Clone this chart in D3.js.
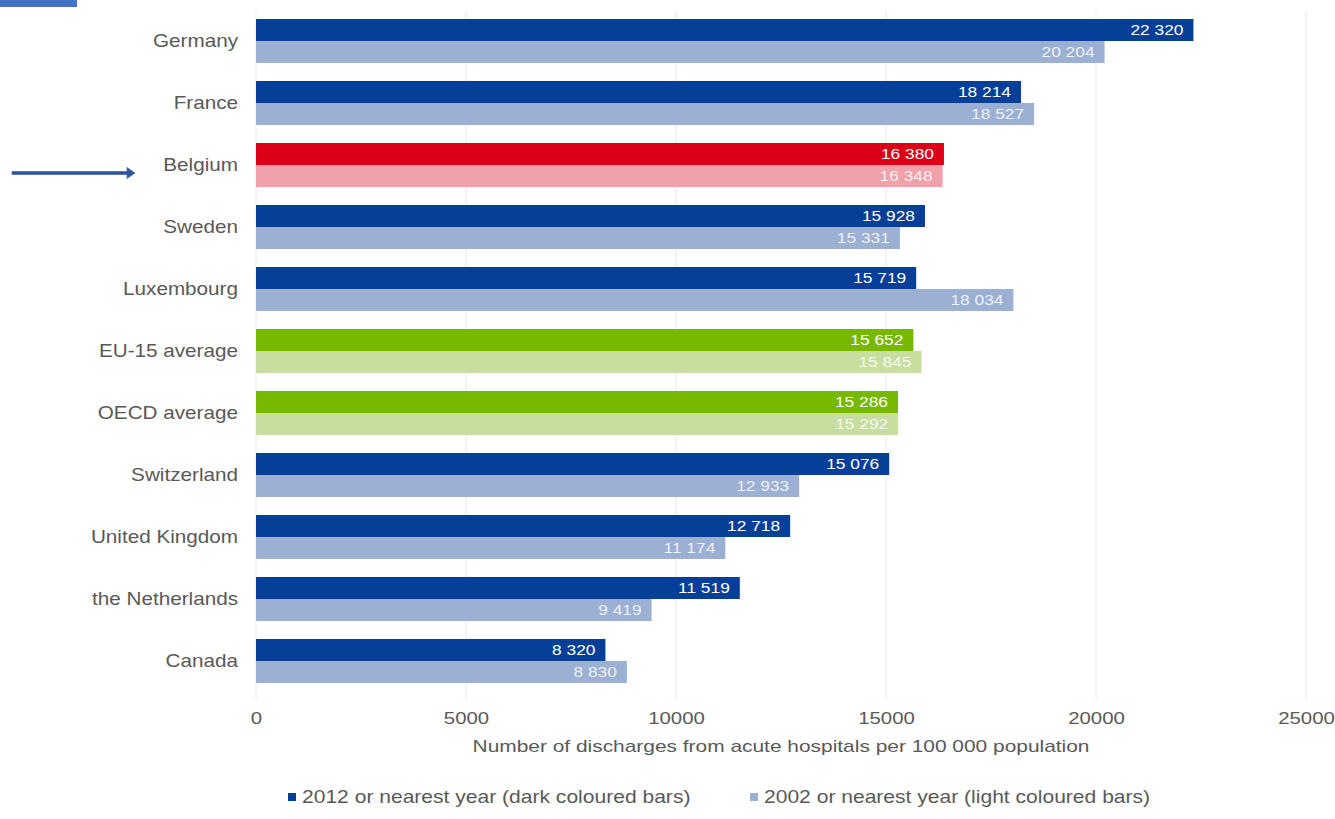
<!DOCTYPE html>
<html>
<head>
<meta charset="utf-8">
<script src="https://cdn.jsdelivr.net/npm/d3@7"></script>
<style>
  body { margin: 0; background: #fff; }
  svg { display: block; font-family: "Liberation Sans", Arial, sans-serif; }
</style>
</head>
<body>
<svg id="chart" width="1335" height="819"></svg>
<script>
// --- Data ---
const countries = ["Germany", "France", "Belgium", "Sweden", "Luxembourg", "EU-15 average",
  "OECD average", "Switzerland", "United Kingdom", "the Netherlands", "Canada"];
const values2012 = [22320, 18214, 16380, 15928, 15719, 15652, 15286, 15076, 12718, 11519, 8320];
const values2002 = [20204, 18527, 16348, 15331, 18034, 15845, 15292, 12933, 11174, 9419, 8830];
const groups = ["other", "other", "belgium", "other", "other", "avg", "avg", "other", "other", "other", "other"];
const xTicks = [0, 5000, 10000, 15000, 20000, 25000];
const legendLabels = ["2012 or nearest year (dark coloured bars)", "2002 or nearest year (light coloured bars)"];

const darkColor = { other: "#063f98", belgium: "#dc0017", avg: "#77b800" };
const lightColor = { other: "#9cb0d3", belgium: "#f0a1aa", avg: "#c8dea1" };
const textGrey = "#595959";

const svg = d3.select("#chart");

const x = d3.scaleLinear().domain([0, 25000]).range([256, 1306]);
const y = d3.scaleBand().domain(countries).range([10, 692]).paddingInner(0.29).paddingOuter(0.145);

// texte étiré horizontalement (la référence est un peu élargie)
function stretchedText(sel, sx) {
  return sel.append("g")
    .attr("transform", d => `translate(${sx.x(d)},${sx.y(d)}) scale(${sx.s},1)`)
    .append("text")
    .attr("dy", "0.36em");
}

// gridlines
svg.append("g").selectAll("line")
  .data(xTicks)
  .join("line")
  .attr("x1", d => x(d)).attr("x2", d => x(d))
  .attr("y1", 10).attr("y2", 700)
  .attr("stroke", "#e8e8e8").attr("stroke-width", 1);

const half = y.bandwidth() / 2;
const fmt = v => d3.format(",")(v).replace(",", " ");

const rows = svg.append("g").selectAll("g")
  .data(countries.map((c, i) => ({ c, v12: values2012[i], v02: values2002[i], g: groups[i] })))
  .join("g");

rows.append("rect")
  .attr("x", x(0)).attr("y", d => y(d.c))
  .attr("width", d => x(d.v12) - x(0)).attr("height", half)
  .attr("fill", d => darkColor[d.g]);

rows.append("rect")
  .attr("x", x(0)).attr("y", d => y(d.c) + half)
  .attr("width", d => x(d.v02) - x(0)).attr("height", half)
  .attr("fill", d => lightColor[d.g]);

stretchedText(rows, { x: d => x(d.v12) - 10, y: d => y(d.c) + half / 2, s: 1.24 })
  .attr("text-anchor", "end")
  .attr("fill", "#fff").style("font-size", "14px")
  .text(d => fmt(d.v12));

stretchedText(rows, { x: d => x(d.v02) - 10, y: d => y(d.c) + half * 1.5, s: 1.24 })
  .attr("text-anchor", "end")
  .attr("fill", "#fff").attr("fill-opacity", 0.85).style("font-size", "14px")
  .text(d => fmt(d.v02));

// category labels
stretchedText(rows, { x: () => 238, y: d => y(d.c) + half, s: 1.15 })
  .attr("text-anchor", "end")
  .attr("fill", textGrey).style("font-size", "18px")
  .text(d => d.c);

// x axis
const xAxis = svg.append("g")
  .attr("transform", "translate(0,718)")
  .call(d3.axisBottom(x).tickValues(xTicks).tickSize(0).tickFormat(d3.format("d")));
xAxis.select(".domain").remove();
xAxis.selectAll("text").attr("fill", textGrey).style("font-size", "17px")
  .attr("y", 0).attr("dy", "0.36em")
  .attr("transform", "scale(1.2,1)");

stretchedText(svg.append("g").datum(12500), { x: d => x(d), y: () => 746, s: 1.23 })
  .attr("text-anchor", "middle").attr("fill", textGrey).style("font-size", "17px")
  .text("Number of discharges from acute hospitals per 100 000 population");

// legend
const legend = svg.append("g").selectAll("g")
  .data(legendLabels)
  .join("g")
  .attr("transform", (d, i) => `translate(${i === 0 ? 288 : 750},797)`);
legend.append("rect").attr("x", 0).attr("y", -4).attr("width", 8).attr("height", 8)
  .attr("fill", (d, i) => i === 0 ? darkColor.other : lightColor.other);
stretchedText(legend, { x: () => 14, y: () => 0, s: 1.17 })
  .attr("fill", textGrey).style("font-size", "18px")
  .text(d => d);

// décor : barre en haut à gauche et flèche vers la Belgique
svg.append("rect").attr("x", 0).attr("y", 0).attr("width", 77).attr("height", 7).attr("fill", "#4472c4");
svg.append("path")
  .attr("d", d3.line()([[12, 171.5], [127, 171.5], [127, 167.5], [135, 173], [127, 178.5], [127, 174.5], [12, 174.5]]) + "Z")
  .attr("fill", "#2f5597").attr("stroke", "#4a6fb0").attr("stroke-width", 0.8);
</script>
</body>
</html>
